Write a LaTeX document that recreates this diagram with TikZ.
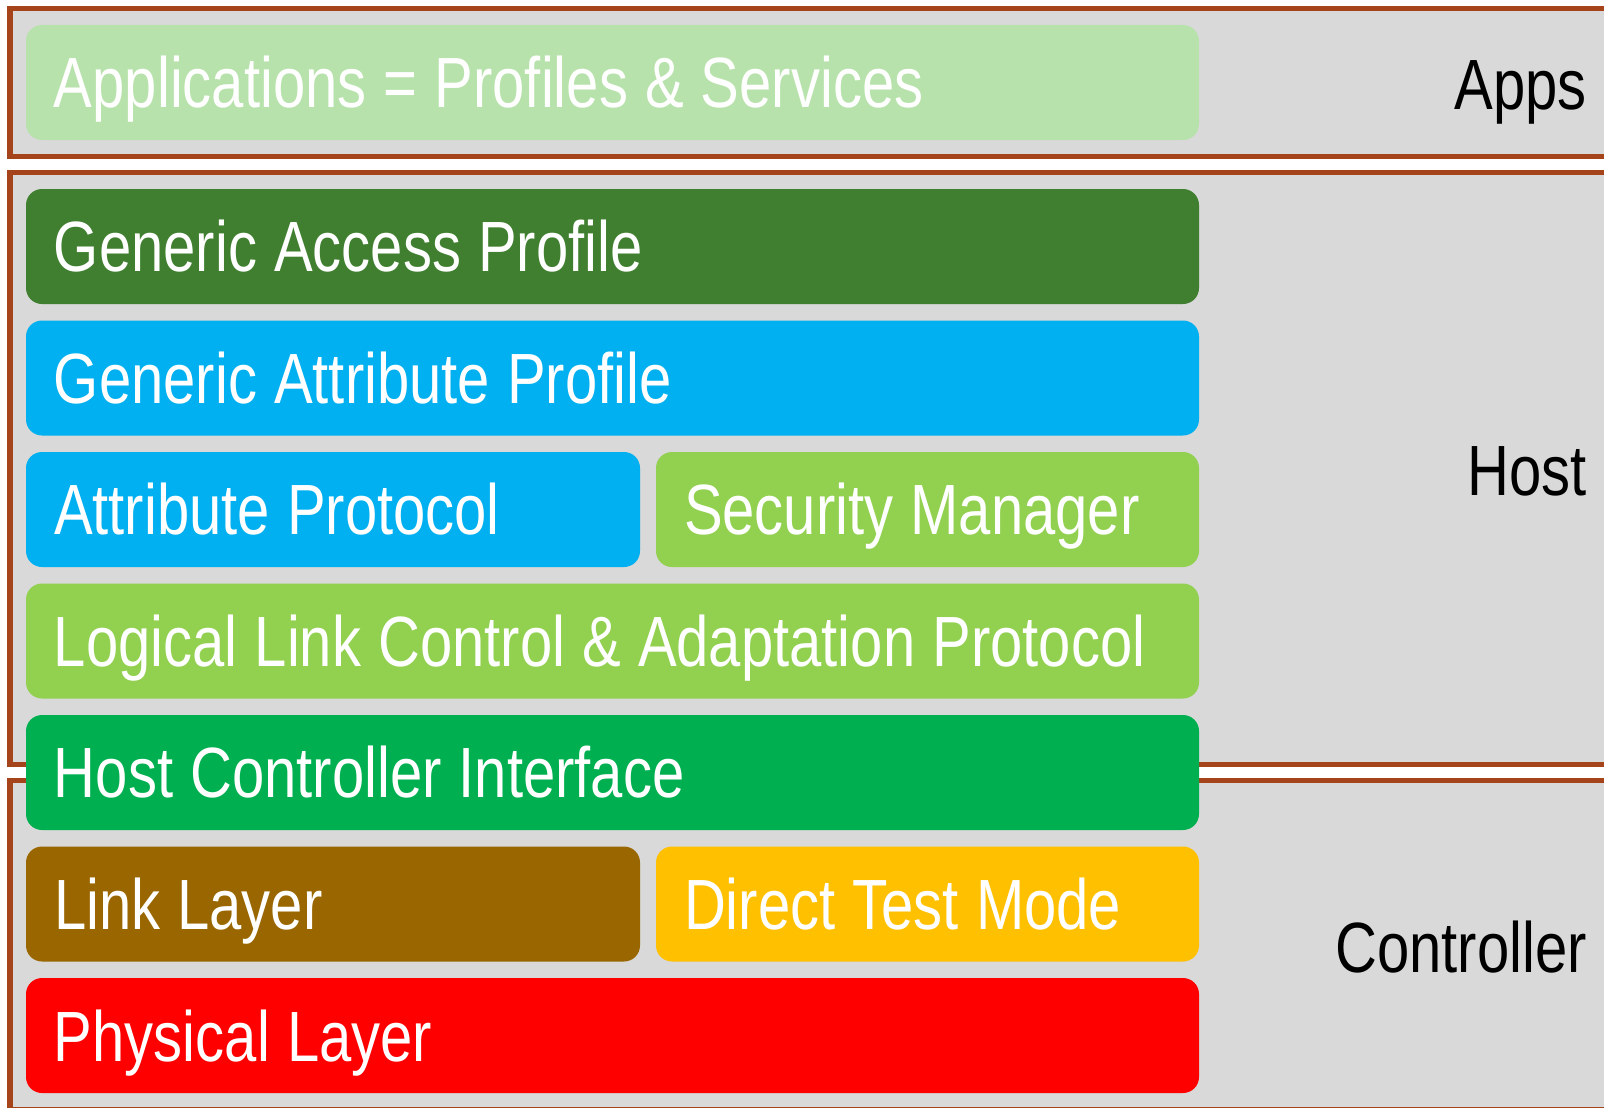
\documentclass[tikz,border=0pt]{standalone}
\usepackage{fontspec}
\setmainfont{Liberation Sans}[FakeStretch=0.815, WordSpace=1.06]
\usetikzlibrary{shapes,backgrounds}

\definecolor{framebrown}{HTML}{A5441B}
\definecolor{framegray}{HTML}{D9D9D9}
\definecolor{appgreen}{HTML}{B8E2AC}
\definecolor{gapgreen}{HTML}{3F7F2F}
\definecolor{gattblue}{HTML}{00B0F0}
\definecolor{smgreen}{HTML}{92D050}
\definecolor{hcigreen}{HTML}{00B050}
\definecolor{llbrown}{HTML}{996600}
\definecolor{dtmyellow}{HTML}{FFC000}
\definecolor{phyred}{HTML}{FF0000}

\tikzset{
  layerframe/.style={draw=framebrown, line width=0.1cm, fill=framegray},
  layer/.style={rectangle, rounded corners=0.32cm, minimum height=2.3cm,
    inner xsep=0.56cm, inner ysep=0pt, text=white, align=flush left,
    text height=29pt, text depth=0pt,
    font=\fontsize{40.5}{48}\selectfont},
  widelayer/.style={layer, text width=22.34cm},
  leftlayer/.style={layer, text width=11.16cm},
  rightlayer/.style={layer, text width=9.74cm},
  sidelabel/.style={inner sep=0pt, anchor=east, text height=29pt, text depth=0pt,
    font=\fontsize{40.5}{48}\selectfont}
}

\begin{document}
\begin{tikzpicture}
\clip (0,0) rectangle (32.08,-22.14);

% Frames
\draw [layerframe] (0.2,-0.18) rectangle (32.8,-3.12);
\draw [layerframe] (0.2,-3.45) rectangle (32.8,-15.29);
\draw [layerframe] (0.2,-15.61) rectangle (32.8,-22.18);

% Apps
\node [widelayer, fill=appgreen] (app) at (12.25,-1.65) {Applications = Profiles \& Services};
\node [sidelabel] (appslabel) at (31.74,-1.68) {Apps};

% Host
\node [widelayer, fill=gapgreen] (gap) at (12.25,-4.93) {Generic Access Profile};
\node [widelayer, fill=gattblue] (gatt) at (12.25,-7.56) {Generic Attribute Profile};
\node [leftlayer, fill=gattblue] (att) at (6.66,-10.19) {Attribute Protocol};
\node [rightlayer, fill=smgreen] (sm) at (18.55,-10.19) {Security Manager};
\node [widelayer, fill=smgreen] (l2cap) at (12.25,-12.82) {Logical Link Control \& Adaptation Protocol};
\node [sidelabel] (hostlabel) at (31.74,-9.40) {Host};

% Controller
\node [widelayer, fill=hcigreen] (hci) at (12.25,-15.45) {Host Controller Interface};
\node [leftlayer, fill=llbrown] (ll) at (6.66,-18.08) {Link Layer};
\node [rightlayer, fill=dtmyellow] (dtm) at (18.55,-18.08) {Direct Test Mode};
\node [widelayer, fill=phyred] (phy) at (12.25,-20.71) {Physical Layer};
\node [sidelabel] (ctrllabel) at (31.74,-18.94) {Controller};

\end{tikzpicture}
\end{document}
